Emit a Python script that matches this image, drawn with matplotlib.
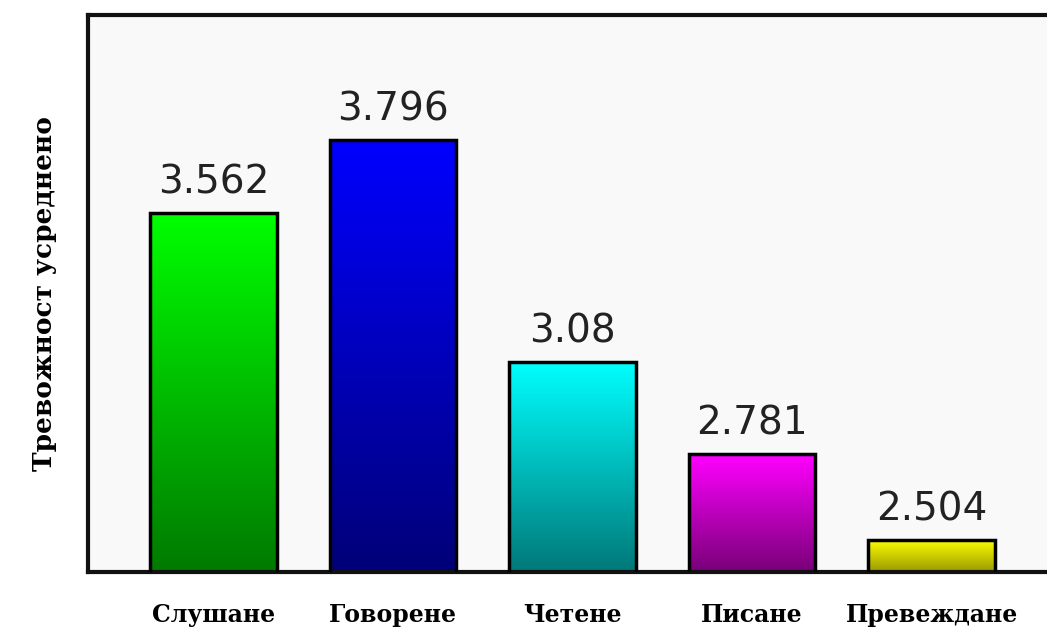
import numpy as np
import matplotlib.pyplot as plt
from matplotlib.colors import LinearSegmentedColormap

# =========================================================
# Data
# =========================================================

categories = ["Слушане", "Говорене", "Четене", "Писане", "Превеждане"]
values = [3.562, 3.796, 3.08, 2.781, 2.504]
value_labels = ["3.562", "3.796", "3.08", "2.781", "2.504"]

top_colors = ["#00ff00", "#0000ff", "#00ffff", "#ff00ff", "#ffff00"]
bottom_colors = ["#007a00", "#000078", "#007878", "#780078", "#9a9a00"]

y_min, y_max = 2.40, 4.20

# =========================================================
# Figure
# =========================================================

fig = plt.figure(figsize=(10.47, 6.31), dpi=100)
fig.patch.set_facecolor("white")
ax = fig.add_axes([0.084, 0.0935, 0.916, 0.882])
ax.set_facecolor("#f9f9f9")

x = np.arange(len(categories))
bars = ax.bar(x, values, width=0.707, color="none",
              edgecolor="black", linewidth=2.5, zorder=3)

# vertical gradient fill for each bar
for bar, c_top, c_bot in zip(bars, top_colors, bottom_colors):
    x0 = bar.get_x()
    w = bar.get_width()
    h = bar.get_height()
    cmap = LinearSegmentedColormap.from_list("g", [c_bot, c_top])
    grad = np.linspace(0, 1, 256).reshape(-1, 1)
    im = ax.imshow(grad, cmap=cmap, origin="lower", aspect="auto",
                   extent=[x0, x0 + w, y_min, h], zorder=2)
    im.set_clip_path(bar)

ax.set_xlim(-0.699, 4.643)
ax.set_ylim(y_min, y_max)

# value labels above bars
for xi, v, lab in zip(x, values, value_labels):
    ax.text(xi, v + 0.037, lab, ha="center", va="bottom",
            fontsize=28, family="DejaVu Sans", color="#222222")

ax.set_xticks(x)
ax.set_xticklabels(categories, family="DejaVu Serif", fontweight="bold",
                   fontsize=17)
ax.tick_params(axis="x", length=0, pad=22)
ax.set_yticks([])

ax.set_ylabel("Тревожност усреднено", family="DejaVu Serif",
              fontweight="bold", fontsize=19, labelpad=22)

for side in ["left", "top", "bottom"]:
    ax.spines[side].set_linewidth(3)
    ax.spines[side].set_color("#111111")
ax.spines["right"].set_visible(False)

plt.savefig("out.png", dpi=100)
